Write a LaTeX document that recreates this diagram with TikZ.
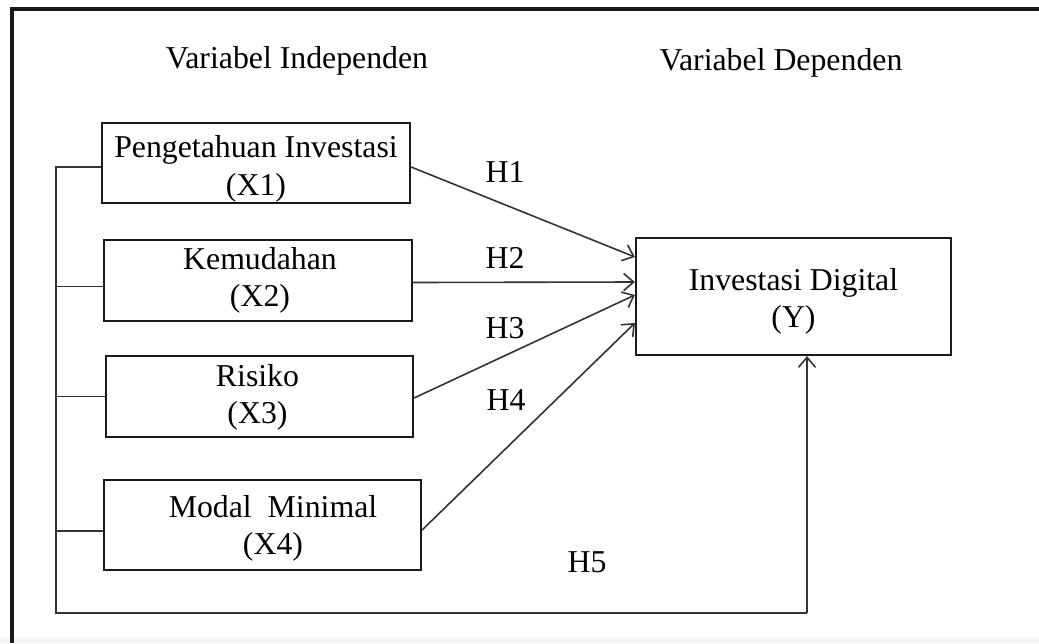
\documentclass[tikz,border=0pt]{standalone}
\usepackage{fontspec}
\setmainfont{Liberation Serif}
\usetikzlibrary{arrows.meta}
\begin{document}
\begin{tikzpicture}[x=0.5pt,y=-0.5pt,
  txt/.style={font=\fontsize{15.9}{18.8}\selectfont, inner sep=0pt, align=center},
  varbox/.style={draw=black!90, line width=1.1pt, inner sep=0pt},
  conn/.style={draw=black!80, line width=0.8pt},
  arr/.style={conn, -{Straight Barb[length=5pt,width=8.5pt,line width=0.8pt]}}]
\useasboundingbox (0,0) rectangle (1039,643);
\fill[black!4] (0,638) rectangle (1039,643);
% outer frame (top and left edges)
\draw[line width=1.6pt, black!90] (12,643) -- (12,9) -- (1039,9);
% headings
\node[txt] (hind) at (297,61) {Variabel Independen};
\node[txt] (hdep) at (781,63) {Variabel Dependen};
% boxes
\node[varbox, minimum width=154pt, minimum height=40pt] (x1) at (256,163) {};
\node[varbox, minimum width=154pt, minimum height=40.5pt] (x2) at (258,280.5) {};
\node[varbox, minimum width=153.5pt, minimum height=40.5pt] (x3) at (259.5,396.5) {};
\node[varbox, minimum width=158.5pt, minimum height=45pt] (x4) at (262.5,525) {};
\node[varbox, minimum width=157.5pt, minimum height=58.5pt] (y) at (793.5,296.5) {};
% box texts
\node[txt] (x1t) at ([yshift=-3pt]x1.center) {Pengetahuan Investasi\\(X1)};
\node[txt] (x2t) at ([xshift=1pt]x2.center) {Kemudahan\\(X2)};
\node[txt] (x3t) at ([yshift=-0.5pt,xshift=-1pt]x3.center) {Risiko\\(X3)};
\node[txt] (x4t) at ([yshift=-1.75pt,xshift=5.25pt]x4.center) {Modal\ \ Minimal\\(X4)};
\node[txt] (yt) at ([yshift=-2.5pt]y.center) {Investasi Digital\\(Y)};
% bracket on the left
\coordinate (tl) at (56,167);
\coordinate (bl) at (56,613);
\coordinate (br) at (807,613);
\draw[conn] ([yshift=-2pt]x1.west) -- (tl) -- (bl) -- (br);
\draw[conn] ([yshift=-3pt]x2.west) -- ([yshift=-3pt]x2.west -| tl);
\draw[conn] (x3.west) -- (x3.west -| tl);
\draw[conn] ([yshift=-3pt]x4.west) -- ([yshift=-3pt]x4.west -| tl);
\draw[arr] (br) -- (br |- y.south);
% hypothesis arrows
\draw[arr] ([yshift=-2pt]x1.east) -- ([yshift=19.75pt]y.west);
\draw[arr] ([yshift=-1pt]x2.east) -- ([yshift=7.25pt]y.west);
\draw[arr] ([yshift=-0.75pt]x3.east) -- ([yshift=0.75pt]y.west);
\draw[arr] ([yshift=-2.5pt]x4.east) -- ([yshift=-13.25pt]y.west);
% labels
\node[txt] (h1) at (505,172) {H1};
\node[txt] (h2) at (505,258) {H2};
\node[txt] (h3) at (505,328) {H3};
\node[txt] (h4) at (506,400) {H4};
\node[txt] (h5) at (587,562) {H5};
\end{tikzpicture}
\end{document}
